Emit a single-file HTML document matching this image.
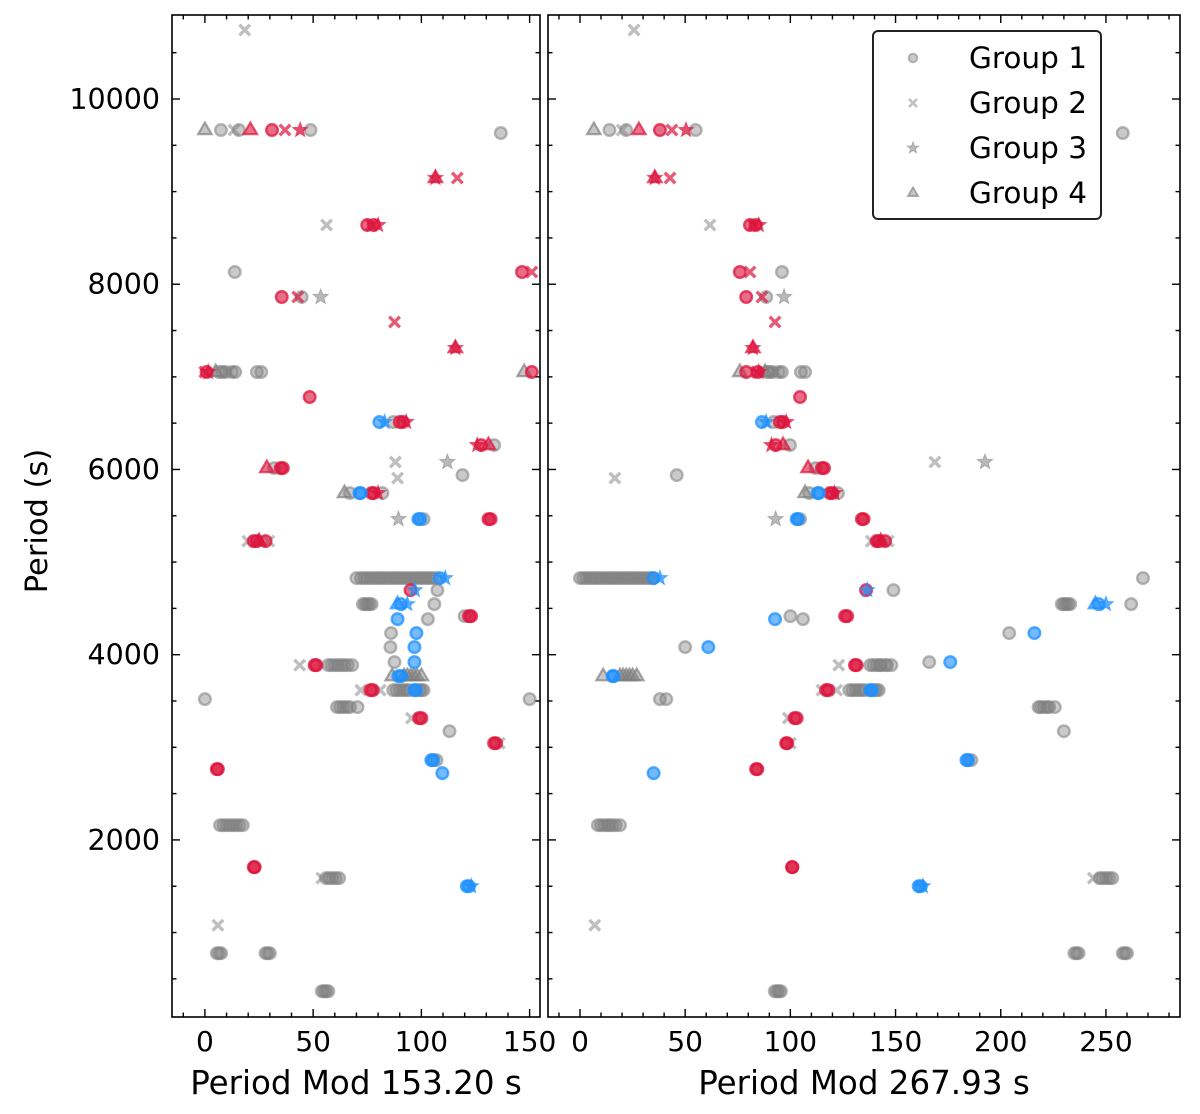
<!DOCTYPE html>
<html><head><meta charset="utf-8">
<style>
html,body{margin:0;padding:0;background:#fff;}
svg{display:block;font-family:"DejaVu Sans","Liberation Sans",sans-serif;}
</style></head>
<body>
<svg id="chart" width="1200" height="1114" viewBox="0 0 1200 1114" xmlns="http://www.w3.org/2000/svg">
<g id="marks"></g>
<g id="axes"></g>
</svg>
<script>
// ---- data ----
const periods = [
10745,
9665,9665,9665,9665,9665,9665,9665,9665,9665,9633,
9147,9147,9147,
8639,8639,8639,8639,
8132,8132,8132,
7862,7862,7862,7862,
7592,7311,7311,
7052,7052,7052,7052,7052,7052,7052,7052,7052,7052,
6782,
6512,6512,6512,6512,6512,
6263,6263,6263,6263,
6080,6080,5939,5907,
6015,6015,6015,
5745,5745,5745,5745,5745,5745,
5464,5464,5464,5464,
5226,5226,5226,5226,5226,
4827,4827,4827,4827,4827,4827,4827,4827,4827,4827,4827,4827,4827,4827,4827,
4697,4697,4697,
4546,4546,4546,4546,4546,4546,
4416,4416,4384,4384,
4233,4233,4082,4082,3920,3920,
3887,3887,3887,3887,3887,3887,3887,
3768,3768,3768,3768,3768,3768,
3617,3617,3617,3617,3617,3617,3617,3617,3617,
3520,3520,
3434,3434,3434,3434,
3315,3315,3174,3044,3044,2861,2861,2721,2764,
2159,2159,2159,2159,2159,
1706,
1587,1587,1587,1587,
1500,1500,1079,777,777,366,366,
4827,4827,4827,4827,4827,4827,4827,4827,4827,4827,4827,4827,
7052,7052,7052,2159,2159,2159,3887,3887,3887,
3617,3617,3617,3617,3434,3434,1587,1587,3768,3768,
4546,4546,777,777,777,777,366,366,
5226,3887,3617,3315,3044,2764,1706,5464,4416,6015,5745,6512,8639,7052,
5745,5464,2861,1500,4546,3617,3768
];
const modA = [
18.4,
0,7.4,13.4,15.7,21,31,37,44,48.8,136.7,
106.5,106.5,116.6,
56.2,75,77,80,
13.8,146.5,151,
35.5,42.9,44.7,53.5,
87.6,115.7,115.7,
0,1.5,5,8,11,14,24,26,147.5,151,
48.4,
80.6,83,87,90,93,
125.8,127.6,131,133.6,
88,112,119,89,
28.6,32,36,
64.5,67,71.4,77,80,82,
89.4,98.6,101,131,
19.8,22.5,25,28,29.5,
72,75,78,81,84,87,90,93,96,99,102,105,108.5,111,70,
95,97,107.4,
73,75,77,89,93.5,106,
120,122,89,103,
86,97.7,85.7,96.8,87.6,96.8,
43.8,50.7,57,60,63,66,68,
89.4,86.5,92,95,98,100,
72,76.5,81,87,90,93,96.8,99,101,
0,150,
61,64,67,70.5,
95.4,99,113,133.6,136,104.6,107,109.7,5.5,
7,10,13,16,17.5,
22.6,
54,56,59,62,
121,123,6,6.5,29,55,57,
73.5,76.5,79.5,82.5,85.5,88.5,91.5,94.5,97.5,100.5,103.5,106.5,
6.5,9.5,12.5,8.5,11.5,14.5,58.5,61.5,64.5,
88.5,91.5,94.5,100,62.5,65.5,57.5,60.5,93.5,96.5,
74,76,5.5,7.5,28,30,54,56,
24,51.5,77.5,100,134.5,6,23,132,123,35,78,91.5,78,0.8,
72,99.5,105.5,122,90.5,97.5,90.7
];
const modB = [
25.7,
6.6,14,20,22,28,38,43.7,50.4,55,258,
35.6,35.6,42.8,
61.8,80.8,82.5,85,
96,76,80.8,
79,86.5,88.5,97,
92.7,82.2,82.2,
84,85,88,90,93,96,105,107,76,79,
104.6,
86.5,88.5,92,95,98,
91,93,96.5,99.8,
168.7,192.5,46,16.6,
108.4,112,116,
107,109,113,118.8,121,122.6,
93,103,104.6,134,
138.5,141,143,145,146.5,
0,3,6,9,12,15,18,21,24,27,30,33,35,38,267.6,
136,136.5,149,
229,231,233,245,250,262,
100,126,92.7,106,
204,216,50,61,166,176,
123,130.7,138,141,143,146,148,
15.5,11,19,22,25,27,
115,117,122,128,131,134,138,140,142,
41,38,
218,220.5,223,225.7,
99,102,230,98,100,183.7,186,35,83.7,
8.5,11.5,14,17,19,
100.8,
244,247,250,253,
161,163,7,236,259,93.6,95.5,
1.5,4.5,7.5,10.5,13.5,16.5,19.5,22.5,25.5,28.5,31.5,34.5,
89,91.5,94.5,10,13,15.5,139.5,142.5,145,
129.5,132.5,135.5,141,219,222,248.5,251.5,20.5,23.5,
230,232,235,237,258,260,92.6,94.5,
142,131.5,118,103,98.5,84.3,101,134.8,127,115,120,96.5,83.5,84.5,
113.6,103.6,184.5,162,246.5,138.7,16
];
// group: 1 circle, 2 cross, 3 star, 4 triangle
const groups = [
2,
4,1,2,1,4,1,2,3,1,1,
4,3,2,
2,1,2,3,
1,1,2,
1,2,1,3,
2,4,3,
2,3,4,1,2,1,1,1,4,1,
1,
1,3,1,1,3,
3,1,4,1,
2,3,1,2,
4,1,1,
4,1,1,1,3,1,
3,1,1,1,
2,1,4,1,2,
1,1,1,1,1,1,1,1,1,1,1,1,1,3,1,
1,3,1,
1,1,1,4,3,1,
1,1,1,1,
1,1,1,1,1,1,
2,1,1,1,1,1,1,
1,4,4,4,4,4,
2,1,2,1,1,1,1,1,1,
1,1,
1,1,1,1,
2,1,1,1,2,1,1,1,1,
1,1,1,1,1,
1,
2,1,1,1,
1,3,2,1,1,1,1,
1,1,1,1,1,1,1,1,1,1,1,1,
1,1,1,1,1,1,1,1,1,
1,1,1,1,1,1,1,1,4,4,
1,1,1,1,1,1,1,1,
1,1,1,1,1,1,1,1,1,1,1,1,1,1,
1,1,1,1,1,1,1
];
// highlight: 0 gray, 1 red, 2 blue
const highlight = [
0,
0,0,0,0,1,1,1,1,0,0,
1,1,1,
0,1,1,1,
0,1,1,
1,1,0,0,
1,1,1,
1,1,0,0,0,0,0,0,0,1,
1,
2,2,0,1,1,
1,1,1,0,
0,0,0,0,
1,0,1,
0,0,2,1,1,0,
0,2,0,1,
0,1,1,1,0,
0,0,0,0,0,0,0,0,0,0,0,0,2,2,0,
1,2,0,
0,0,0,2,2,0,
0,1,2,0,
0,2,0,2,0,2,
0,1,0,0,0,0,0,
2,0,0,0,0,0,
0,1,0,0,0,0,2,0,0,
0,0,
0,0,0,0,
0,1,0,1,0,2,0,2,1,
0,0,0,0,0,
1,
0,0,0,0,
2,2,0,0,0,0,0,
0,0,0,0,0,0,0,0,0,0,0,0,
0,0,0,0,0,0,0,0,0,
0,0,0,0,0,0,0,0,0,0,
0,0,0,0,0,0,0,0,
1,1,1,1,1,1,1,1,1,1,1,1,1,1,
2,2,2,2,2,2,2
];
const legendLabels = ["Group 1","Group 2","Group 3","Group 4"];
const yTicks = [2000,4000,6000,8000,10000];
const xTicksA = [0,50,100,150];
const xTicksB = [0,50,100,150,200,250];

// ---- layout ----
const NS="http://www.w3.org/2000/svg";
const TOP=15,BOT=1017;
const panels=[
 {x0:172,x1:540,dmin:-15.2,dmax:154.8,ticks:xTicksA,mods:modA,label:"Period Mod 153.20 s",name:"left-panel"},
 {x0:548,x1:1180,dmin:-15.2,dmax:285.2,ticks:xTicksB,mods:modB,label:"Period Mod 267.93 s",name:"right-panel"}
];
const yMin=88,yMax=10907;
function yS(v){return BOT-(v-yMin)/(yMax-yMin)*(BOT-TOP);}
function xS(p,v){return p.x0+(v-p.dmin)/(p.dmax-p.dmin)*(p.x1-p.x0);}
const colors=["#808080","#dc143c","#1e90ff"];
function el(tag,attrs,parent){const e=document.createElementNS(NS,tag);for(const k in attrs)e.setAttribute(k,attrs[k]);parent.appendChild(e);return e;}
function starPts(cx,cy,R){let s=[];for(let i=0;i<10;i++){const r=i%2?R*0.42:R;const a=-Math.PI/2+i*Math.PI/5;s.push((cx+r*Math.cos(a)).toFixed(1)+","+(cy+r*Math.sin(a)).toFixed(1));}return s.join(" ");}
function marker(parent,g,cx,cy,col,scale){
  let m;
  const gray = col==="#808080";
  const fo = gray?0.42:0.62, so = gray?0.55:0.75;
  if(g===1){
    m=el("circle",{cx:cx,cy:cy,r:5.8*scale,fill:col,"fill-opacity":fo,stroke:col,"stroke-opacity":so,"stroke-width":2.4*scale},parent);
  }else if(g===2){
    const d=5.3*scale;
    m=el("path",{d:`M${cx-d},${cy-d}L${cx+d},${cy+d}M${cx-d},${cy+d}L${cx+d},${cy-d}`,stroke:col,"stroke-opacity":gray?0.5:0.7,"stroke-width":3.4*scale,fill:"none"},parent);
  }else if(g===3){
    m=el("polygon",{points:starPts(cx,cy,8*scale),fill:col,"fill-opacity":gray?0.55:0.75,stroke:col,"stroke-opacity":0.5,"stroke-width":1},parent);
  }else{
    const r=7.5*scale;
    m=el("polygon",{points:`${cx},${cy-r} ${cx+r*0.9},${cy+r*0.55} ${cx-r*0.9},${cy+r*0.55}`,fill:col,"fill-opacity":gray?0.45:0.6,stroke:col,"stroke-opacity":0.7,"stroke-width":2.2*scale},parent);
  }
  return m;
}
const marks=document.getElementById("marks");
const axes=document.getElementById("axes");
panels.forEach((p,pi)=>{
  const cg=el("g",{},marks);
  
  
  const clip=el("clipPath",{id:"clip"+pi},cg);
  el("rect",{x:p.x0,y:TOP,width:p.x1-p.x0,height:BOT-TOP},clip);
  cg.setAttribute("clip-path","url(#clip"+pi+")");
  [0,1,2].forEach(h=>{
    for(let i=0;i<periods.length;i++){
      if(highlight[i]!==h)continue;
      const m=marker(cg,groups[i],xS(p,p.mods[i]),yS(periods[i]),colors[h],1);
      
      
    }
  });
  const fr=el("rect",{x:p.x0,y:TOP,width:p.x1-p.x0,height:BOT-TOP,fill:"none",stroke:"#000","stroke-width":1.6},axes);
  
  
  for(let v=500;v<=10500;v+=500){
    const y=yS(v); const major=v%2000===0; const L=major?8:4.5;
    el("line",{x1:p.x0,y1:y,x2:p.x0+L,y2:y,stroke:"#000","stroke-width":1.4},axes);
    el("line",{x1:p.x1,y1:y,x2:p.x1-L,y2:y,stroke:"#000","stroke-width":1.4},axes);
  }
  const start=Math.ceil(p.dmin/10)*10;
  for(let v=start;v<=p.dmax;v+=10){
    const x=xS(p,v); const major=v%50===0; const L=major?8:4.5;
    el("line",{x1:x,y1:BOT,x2:x,y2:BOT-L,stroke:"#000","stroke-width":1.4},axes);
    el("line",{x1:x,y1:TOP,x2:x,y2:TOP+L,stroke:"#000","stroke-width":1.4},axes);
  }
  p.ticks.forEach(v=>{
    const t=el("text",{x:xS(p,v),y:1051,"text-anchor":"middle","font-size":28,fill:"#000"},axes);
    t.textContent=v;
    
    
  });
  const xl=el("text",{x:(p.x0+p.x1)/2,y:1094,"text-anchor":"middle","font-size":32.5,fill:"#000"},axes);
  xl.textContent=p.label;
  
  
});
yTicks.forEach(v=>{
  const t=el("text",{x:160,y:yS(v)+10,"text-anchor":"end","font-size":28.5,fill:"#000"},axes);
  t.textContent=v;
  
  
});
const yl=el("text",{x:0,y:0,transform:"translate(47,521) rotate(-90)","text-anchor":"middle","font-size":30.5,fill:"#000"},axes);
yl.textContent="Period (s)";


const lg=el("g",{},axes);


el("rect",{x:873,y:31,width:228,height:188,rx:5,fill:"#fff","fill-opacity":0.85,stroke:"#222","stroke-width":2},lg);
legendLabels.forEach((lab,i)=>{
  const y=58+i*45;
  const m=marker(lg,i+1,913,y,"#808080",0.75);
  
  
  const t=el("text",{x:969,y:y+10,"font-size":29.5,fill:"#000"},lg);
  t.textContent=lab;
  
  
});
</script>
</body></html>
